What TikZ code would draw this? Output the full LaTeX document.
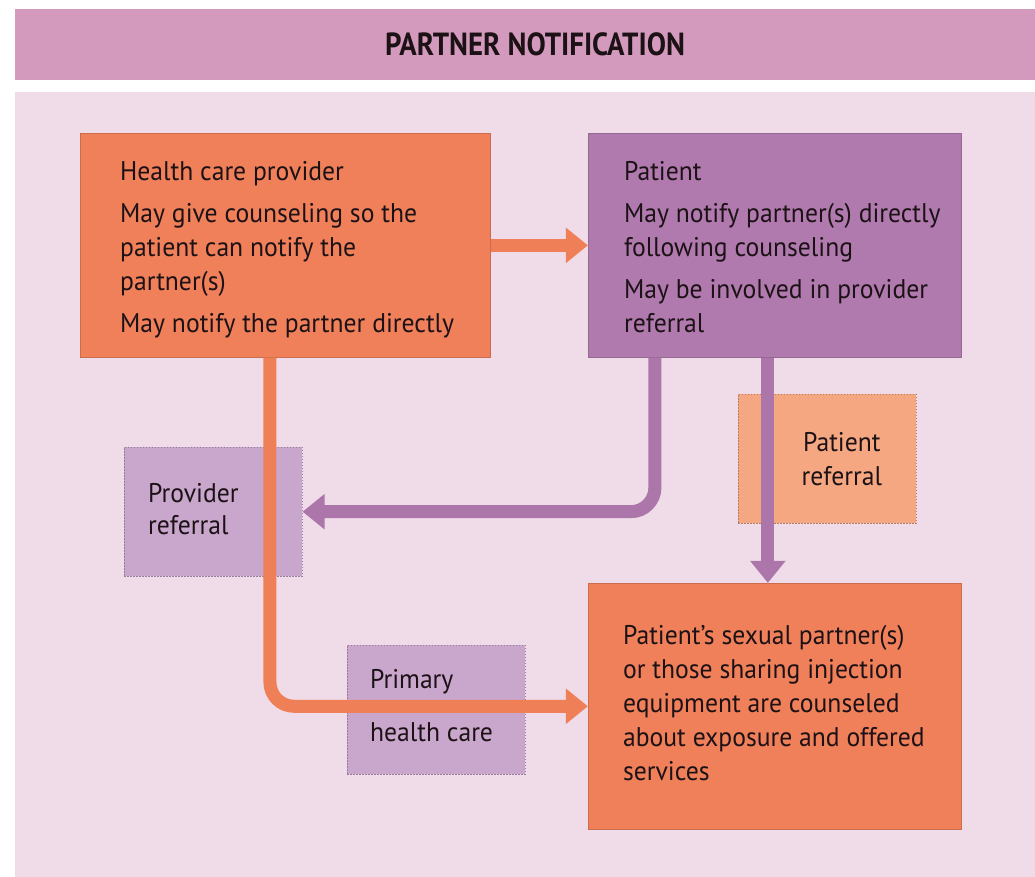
\documentclass[tikz,border=0pt]{standalone}
\usepackage{fontspec}
\setmainfont{PT Sans}[FakeStretch=0.95]
\usetikzlibrary{arrows.meta, positioning, calc}
\definecolor{BandPink}{HTML}{D49ABD}
\definecolor{PaperPink}{HTML}{F0DBE8}
\definecolor{BoxOrange}{HTML}{EF805A}
\definecolor{BoxPurple}{HTML}{B07AAE}
\definecolor{LineOrange}{HTML}{EF7F57}
\definecolor{LinePurple}{HTML}{AD76AB}
\definecolor{SoftPurple}{HTML}{C9A6CC}
\definecolor{SoftOrange}{HTML}{F5A782}
\definecolor{InkDark}{HTML}{1C1216}

\begin{document}
\begin{tikzpicture}[
    x=1pt, y=-1pt,
    % Define styles for the elements
    main box/.style={
        rectangle,
        draw=#1!85!black,       % slightly darker outline
        fill=#1,
        line width=0.8pt,
        inner sep=0pt,
        anchor=north west
    },
    label box/.style={
        rectangle,
        draw=#1!75!black,       % dotted outline
        fill=#1,
        line width=0.6pt,
        dash pattern=on 1.5pt off 1.5pt,
        inner sep=0pt,
        anchor=north west,
        minimum width=178pt,
        minimum height=129pt
    },
    box text/.style={
        anchor=north west,
        inner sep=0pt,
        align=left,
        text=InkDark,
        font=\fontsize{27}{34}\selectfont
    },
    flow line/.style={
        -{Triangle[width=34pt, length=22pt]},
        line width=13pt,
        color=#1,
        rounded corners=24pt
    }
]

    % --- Frame and title band ---
    \fill[white] (0,0) rectangle (1035,877);
    \fill[PaperPink] (15,92) rectangle (1035,877);
    \node[rectangle, fill=BandPink, inner sep=0pt, anchor=north west,
          minimum width=1020pt, minimum height=71pt] (band) at (15,9) {};
    \node[text=InkDark, font=\fontsize{32}{34}\selectfont\bfseries\addfontfeature{FakeStretch=0.9}]
        (title) at ($(band.center)+(10,0)$) {PARTNER NOTIFICATION};

    % --- Referral labels (drawn under the lines) ---
    \node[label box=SoftPurple] (provref) at (124,447) {};
    \node[box text, font=\fontsize{27}{32}\selectfont] (provref text) at (148,483) {Provider\\referral};

    \node[label box=SoftOrange] (patref) at (738,394) {};
    \node[box text, anchor=north, align=center] (patref text) at (842,432) {Patient\\referral};

    \node[label box=SoftPurple] (primary) at (347,645) {};
    \node[box text, font=\fontsize{27}{53}\selectfont] (primary text) at (370,669) {Primary\\health care};

    % --- Health care provider ---
    \node[main box=BoxOrange, minimum width=410pt, minimum height=224pt] (hcp) at (80,133) {};
    \node[box text] (hcp text) at (120,161) {%
        Health care provider\\[8pt]
        May give counseling so the\\
        patient can notify the\\
        partner(s)\\[8pt]
        May notify the partner directly};

    % --- Patient ---
    \node[main box=BoxPurple, minimum width=373pt, minimum height=224pt] (patient) at (588,133) {};
    \node[box text] (patient text) at (624,161) {%
        Patient\\[8pt]
        May notify partner(s) directly\\
        following counseling\\[8pt]
        May be involved in provider\\
        referral};

    % --- Partners ---
    \node[main box=BoxOrange, minimum width=373pt, minimum height=246pt] (partners) at (588,583) {};
    \node[box text] (partners text) at (623,625) {%
        Patient's sexual partner(s)\\
        or those sharing injection\\
        equipment are counseled\\
        about exposure and offered\\
        services};

    % --- Connections ---
    \coordinate (hcp drop) at ($(hcp.south west)+(190,0)$);
    \coordinate (prov drop) at ($(patient.south west)+(67,0)$);
    \coordinate (pat drop) at ($(patient.south west)+(180,0)$);

    \draw[flow line=LineOrange] (hcp.east) -- (patient.west);
    \draw[flow line=LineOrange] (hcp drop) |- (partners.west);
    \draw[flow line=LinePurple] (prov drop) |- (provref.east);
    \draw[flow line=LinePurple] (pat drop) -- (pat drop |- partners.north);

\end{tikzpicture}
\end{document}
